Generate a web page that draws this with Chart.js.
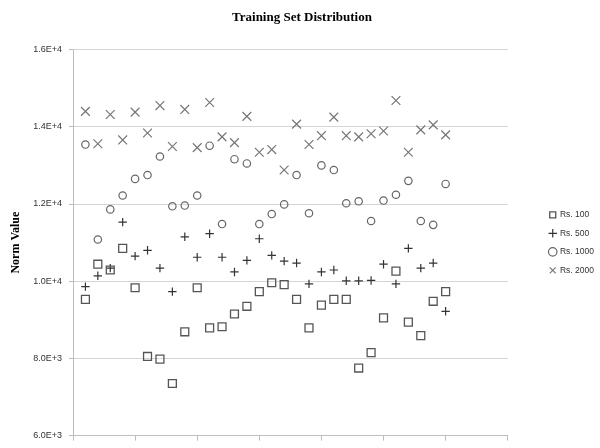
<!DOCTYPE html>
<html>
<head>
<meta charset="utf-8">
<script src="https://cdn.jsdelivr.net/npm/chart.js@4"></script>
<style>
  html, body { margin: 0; padding: 0; background: #fff; }
  #wrap { width: 600px; height: 448px; }
</style>
</head>
<body>
<div id="wrap"><canvas id="graph" width="600" height="448"></canvas></div>
<script>
// sample index along the x axis
const samples = [1, 2, 3, 4, 5, 6, 7, 8, 9, 10, 11, 12, 13, 14, 15,
                 16, 17, 18, 19, 20, 21, 22, 23, 24, 25, 26, 27, 28, 29, 30]

// norm values
const rs100 = [9530, 10440, 10290, 10850, 9830, 8050, 7980, 7350, 8690, 9830,
               8790, 8820, 9150, 9350, 9730, 9960, 9910, 9530, 8790, 9380,
               9530, 9530, 7750, 8150, 9050, 10260, 8940, 8590, 9480, 9730]
const rs500 = [9860, 10140, 10340, 11530, 10650, 10800, 10340, 9730, 11150, 10620,
               11230, 10620, 10240, 10540, 11100, 10670, 10520, 10470, 9930, 10240,
               10290, 10010, 10010, 10020, 10440, 9930, 10850, 10340, 10470, 9220]
const rs1000 = [13540, 11080, 11860, 12220, 12650, 12750, 13230, 11940, 11960, 12220,
                13510, 11480, 13160, 13050, 11480, 11740, 11990, 12750, 11760, 13000,
                12880, 12020, 12070, 11560, 12090, 12240, 12600, 11560, 11460, 12520]
const rs2000 = [14400, 13560, 14320, 13660, 14380, 13840, 14550, 13490, 14450, 13460,
                14630, 13740, 13590, 14270, 13340, 13410, 12880, 14070, 13540, 13770,
                14250, 13770, 13740, 13820, 13890, 14680, 13340, 13920, 14050, 13790]

const seriesNames = ['Rs. 100', 'Rs. 500', 'Rs. 1000', 'Rs. 2000']
const yTicks = [6000, 8000, 10000, 12000, 14000, 16000]
const xTicks = [0, 5, 10, 15, 20, 25, 30, 35]

function toPoints(values) {
    return values.map((v, i) => ({ x: samples[i], y: v }))
}

// one marker style per series, like the excel original
function makeSet(name, values, style, color, radius, width) {
    return {
        label: name,
        data: toPoints(values),
        pointStyle: style,
        borderColor: color,
        backgroundColor: 'rgba(0,0,0,0)',
        pointRadius: radius,
        pointHoverRadius: radius,
        borderWidth: width
    }
}

let gridColor = '#d4d4d4'
let axisColor = '#bdbdbd'

let chart = new Chart(document.getElementById('graph'), {
    type: 'scatter',
    data: {
        datasets: [
            makeSet(seriesNames[0], rs100, 'rect', '#555', 5.6, 1.3),
            makeSet(seriesNames[1], rs500, 'cross', '#333', 4.2, 1.2),
            makeSet(seriesNames[2], rs1000, 'circle', '#666', 3.7, 1.2),
            makeSet(seriesNames[3], rs2000, 'crossRot', '#777', 6.2, 1.2)
        ]
    },
    options: {
        responsive: false,
        animation: false,
        layout: { padding: { top: 0, right: -4, bottom: 0, left: 0 } },
        scales: {
            x: {
                type: 'linear',
                min: 0,
                max: 35,
                afterBuildTicks: s => { s.ticks = xTicks.map(v => ({ value: v })) },
                ticks: { display: false },
                grid: { drawOnChartArea: false, drawTicks: true, tickLength: 5, color: axisColor },
                border: { color: axisColor },
                afterFit: s => { s.height = 5 }
            },
            y: {
                min: 6000,
                max: 16000,
                afterBuildTicks: s => { s.ticks = yTicks.map(v => ({ value: v })) },
                ticks: {
                    padding: 7,
                    color: '#333',
                    font: { family: 'Liberation Sans', size: 9 },
                    callback: v => v.toExponential(1).toUpperCase()
                },
                grid: { color: gridColor, tickColor: axisColor, tickLength: 4 },
                border: { color: axisColor },
                title: {
                    display: true,
                    text: 'Norm Value',
                    color: '#000',
                    padding: { top: 9, bottom: 0 },
                    font: { family: 'Liberation Serif', size: 12, weight: 'bold' }
                },
                afterFit: s => { s.width = 73 }
            },
            // empty spacer so the legend sits away from the plot
            gap: {
                position: 'right',
                display: true,
                ticks: { display: false },
                grid: { display: false },
                border: { display: false },
                afterFit: s => { s.width = 32 }
            }
        },
        plugins: {
            title: {
                display: true,
                text: 'Training Set Distribution',
                color: '#000',
                padding: { top: 10, bottom: 24 },
                font: { family: 'Liberation Serif', size: 13, weight: 'bold' }
            },
            legend: {
                position: 'right',
                align: 'center',
                fullSize: false,
                labels: {
                    usePointStyle: true,
                    boxWidth: 6,
                    boxHeight: 6,
                    padding: 10,
                    color: '#333',
                    font: { family: 'Liberation Sans', size: 8.5 }
                }
            },
            tooltip: { enabled: false }
        }
    }
})
</script>
</body>
</html>
